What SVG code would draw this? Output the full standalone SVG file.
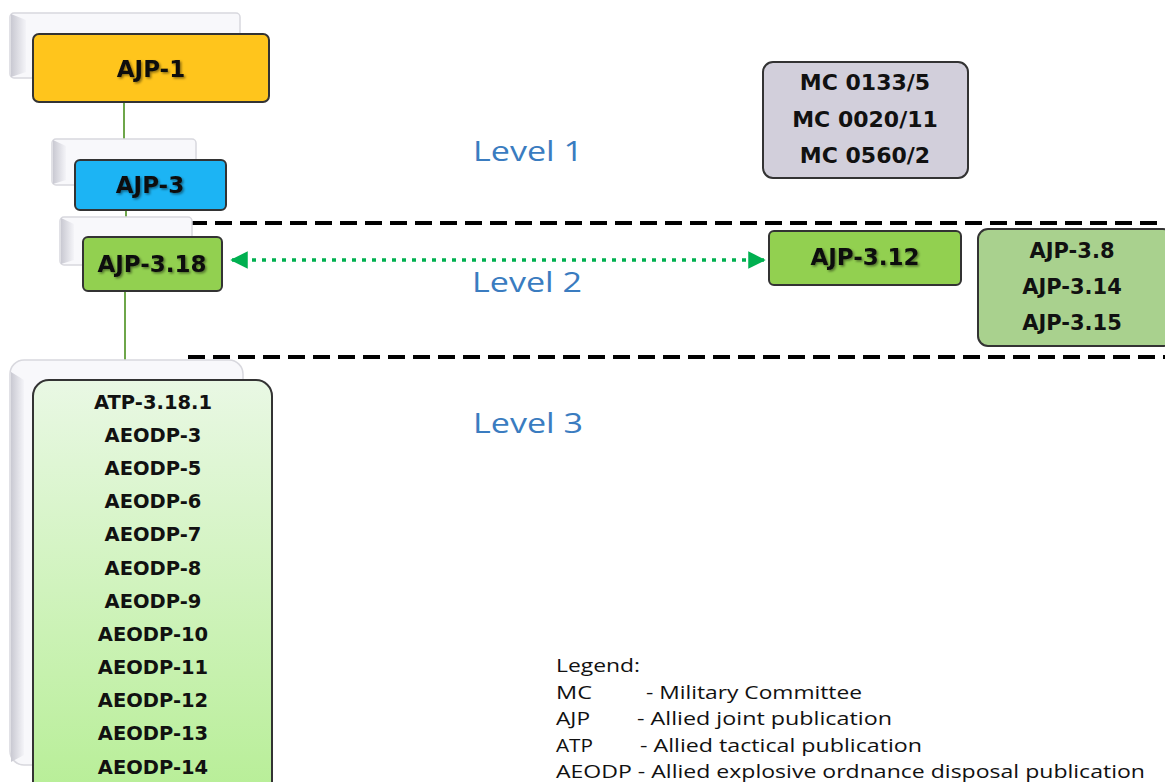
<svg xmlns="http://www.w3.org/2000/svg" width="1165" height="782" viewBox="0 0 1165 782">
<style>
.page{fill:#f8f8fb;stroke:#d8d8de;stroke-width:1.5}
.bevel{fill:url(#bev)}
.box{stroke:#333;stroke-width:2}
.lbl{font-family:"DejaVu Sans","Liberation Sans",sans-serif;font-weight:bold;font-size:23px;fill:#111;text-anchor:middle;filter:url(#ts)}
.lbl2{font-family:"DejaVu Sans","Liberation Sans",sans-serif;font-weight:bold;font-size:21px;fill:#111;text-anchor:middle}
.lst{font-family:"DejaVu Sans","Liberation Sans",sans-serif;font-weight:bold;font-size:19.5px;fill:#111;text-anchor:middle}
.mc{font-family:"DejaVu Sans","Liberation Sans",sans-serif;font-weight:bold;font-size:22px;fill:#111;text-anchor:middle}
.lvl{font-family:"Open Sans","Liberation Sans",sans-serif;font-size:28px;fill:#3A7CC0}
.leg{font-family:"Open Sans","Liberation Sans",sans-serif;font-size:19px;fill:#111}
.dash{stroke:#000;stroke-width:4;stroke-dasharray:17 8;fill:none}
.tree{stroke:#6ea64a;stroke-width:2;fill:none}
</style>
<defs>
<linearGradient id="bev" x1="0" y1="0" x2="1" y2="0">
<stop offset="0" stop-color="#c9c9d2"/><stop offset="1" stop-color="#f4f4f8"/>
</linearGradient>
<linearGradient id="l3" x1="0" y1="0" x2="0" y2="1">
<stop offset="0" stop-color="#e9f8e4"/><stop offset="1" stop-color="#b7ee96"/>
</linearGradient>
<filter id="ts" x="-10%" y="-30%" width="120%" height="160%">
<feDropShadow dx="1.5" dy="1.5" stdDeviation="1.2" flood-color="#000" flood-opacity="0.45"/>
</filter>
<marker id="ah" viewBox="0 0 10 10" refX="9" refY="5" markerWidth="5" markerHeight="5" orient="auto-start-reverse">
<path d="M0,0 L10,5 L0,10 z" fill="#00B050"/>
</marker>
</defs>

<g id="dividers">
<line class="dash" x1="190" y1="223" x2="1165" y2="223"/>
<line class="dash" x1="188" y1="357" x2="1165" y2="357"/>
</g>

<g id="levels">
<text class="lvl" x="473" y="161" textLength="110" lengthAdjust="spacingAndGlyphs">Level 1</text>
<text class="lvl" x="472" y="292" textLength="110" lengthAdjust="spacingAndGlyphs">Level 2</text>
<text class="lvl" x="473" y="433" textLength="110" lengthAdjust="spacingAndGlyphs">Level 3</text>
</g>

<g id="connectors">
<line class="tree" x1="124" y1="102" x2="124" y2="160"/>
<line class="tree" x1="126" y1="210" x2="126" y2="237"/>
<line class="tree" x1="125" y1="291" x2="125" y2="360"/>
<line x1="232" y1="260" x2="764" y2="260" stroke="#00B050" stroke-width="3.5" stroke-dasharray="4 6" marker-start="url(#ah)" marker-end="url(#ah)"/>
</g>

<g id="ajp1">
<rect class="page" x="10" y="13" width="230" height="65" rx="4"/>
<polygon class="bevel" points="11,14 26,20 26,72 11,77"/>
<rect class="box" x="33" y="34" width="236" height="68" rx="6" fill="#FFC51C"/>
<text class="lbl" x="151" y="77">AJP-1</text>
</g>

<g id="ajp3">
<rect class="page" x="52" y="139" width="144" height="46" rx="4"/>
<polygon class="bevel" points="53,140 66,146 66,180 53,184"/>
<rect class="box" x="75" y="160" width="151" height="50" rx="5" fill="#1CB4F4"/>
<text class="lbl" x="150" y="193">AJP-3</text>
</g>

<g id="ajp318">
<rect class="page" x="60" y="217" width="132" height="48" rx="4"/>
<polygon class="bevel" points="61,218 74,224 74,260 61,264"/>
<rect class="box" x="83" y="237" width="139" height="54" rx="5" fill="#92D050"/>
<text class="lbl" x="152" y="272">AJP-3.18</text>
</g>

<g id="ajp312">
<rect class="box" x="769" y="231" width="192" height="54" rx="5" fill="#92D050"/>
<text class="lbl" x="865" y="265">AJP-3.12</text>
</g>

<g id="ajp-others">
<rect class="box" x="978" y="229" width="195" height="117" rx="10" fill="#A9D18E"/>
<text class="lbl2" x="1072" y="258">AJP-3.8</text>
<text class="lbl2" x="1072" y="294">AJP-3.14</text>
<text class="lbl2" x="1072" y="330">AJP-3.15</text>
</g>

<g id="mc">
<rect class="box" x="763" y="62" width="205" height="116" rx="10" fill="#D2CFDB"/>
<text class="mc" x="865" y="90">MC 0133/5</text>
<text class="mc" x="865" y="127">MC 0020/11</text>
<text class="mc" x="865" y="163">MC 0560/2</text>
</g>

<g id="level3">
<rect class="page" x="10" y="360" width="233" height="405" rx="14"/>
<polygon class="bevel" points="11,372 24,380 24,755 11,762"/>
<rect class="box" x="33" y="380" width="239" height="420" rx="16" fill="url(#l3)"/>
<text class="lst" x="153" y="409">ATP-3.18.1</text>
<text class="lst" x="153" y="442">AEODP-3</text>
<text class="lst" x="153" y="475">AEODP-5</text>
<text class="lst" x="153" y="508">AEODP-6</text>
<text class="lst" x="153" y="541">AEODP-7</text>
<text class="lst" x="153" y="575">AEODP-8</text>
<text class="lst" x="153" y="608">AEODP-9</text>
<text class="lst" x="153" y="641">AEODP-10</text>
<text class="lst" x="153" y="674">AEODP-11</text>
<text class="lst" x="153" y="707">AEODP-12</text>
<text class="lst" x="153" y="740">AEODP-13</text>
<text class="lst" x="153" y="774">AEODP-14</text>
</g>

<g id="legend">
<text class="leg" x="556" y="672" textLength="84" lengthAdjust="spacingAndGlyphs">Legend:</text>
<text class="leg" x="556" y="699" textLength="36" lengthAdjust="spacingAndGlyphs">MC</text>
<text class="leg" x="646" y="699" textLength="216" lengthAdjust="spacingAndGlyphs">- Military Committee</text>
<text class="leg" x="556" y="725" textLength="34" lengthAdjust="spacingAndGlyphs">AJP</text>
<text class="leg" x="637" y="725" textLength="255" lengthAdjust="spacingAndGlyphs">- Allied joint publication</text>
<text class="leg" x="556" y="752" textLength="37" lengthAdjust="spacingAndGlyphs">ATP</text>
<text class="leg" x="640" y="752" textLength="282" lengthAdjust="spacingAndGlyphs">- Allied tactical publication</text>
<text class="leg" x="556" y="778" textLength="589" lengthAdjust="spacingAndGlyphs">AEODP - Allied explosive ordnance disposal publication</text>
</g>
</svg>
